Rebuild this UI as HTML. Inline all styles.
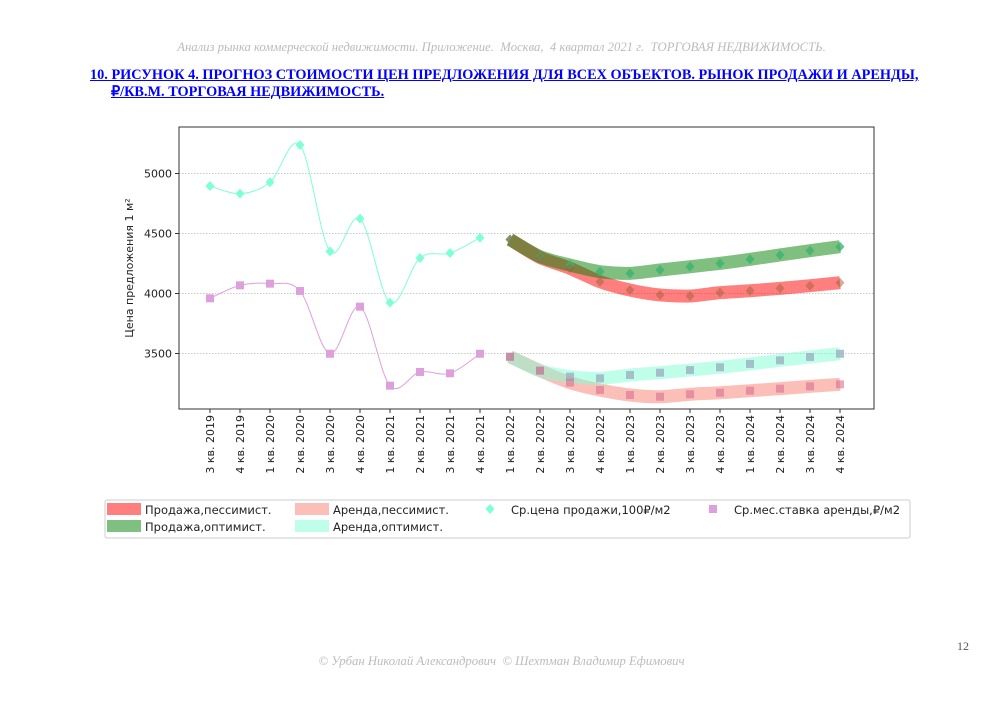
<!DOCTYPE html>
<html><head><meta charset="utf-8"><style>
body{margin:0;background:#fff;}
#page{position:relative;width:1003px;height:708px;overflow:hidden;background:#fff;font-family:"Liberation Serif",serif;}
.hdr{position:absolute;left:0;width:1003px;text-align:center;color:#bbb;font-style:italic;font-size:12.7px;}
.title{position:absolute;left:90px;top:67px;color:#00f;font-weight:bold;font-size:14.3px;text-decoration:underline;line-height:17px;}
svg text{font-family:"DejaVu Sans","Liberation Sans",sans-serif;}
</style></head><body>
<div id="page">
<div class="hdr" style="top:40px">Анализ рынка коммерческой недвижимости. Приложение.&nbsp; Москва,&nbsp; 4 квартал 2021 г.&nbsp; ТОРГОВАЯ НЕДВИЖИМОСТЬ.</div>
<div class="title">10. РИСУНОК 4. ПРОГНОЗ СТОИМОСТИ ЦЕН ПРЕДЛОЖЕНИЯ ДЛЯ ВСЕХ ОБЪЕКТОВ. РЫНОК ПРОДАЖИ И АРЕНДЫ,<br><span style="margin-left:21px">₽/КВ.М. ТОРГОВАЯ НЕДВИЖИМОСТЬ.</span></div>
<svg id="chart" width="1003" height="708" style="position:absolute;left:0;top:0"></svg>
<div style="position:absolute;left:957px;top:639px;font-size:12px;color:#555">12</div>
<div class="hdr" style="top:654px">© Урбан Николай Александрович&nbsp; © Шехтман Владимир Ефимович</div>
</div>
<script>
const categories=["3 кв. 2019","4 кв. 2019","1 кв. 2020","2 кв. 2020","3 кв. 2020","4 кв. 2020","1 кв. 2021","2 кв. 2021","3 кв. 2021","4 кв. 2021","1 кв. 2022","2 кв. 2022","3 кв. 2022","4 кв. 2022","1 кв. 2023","2 кв. 2023","3 кв. 2023","4 кв. 2023","1 кв. 2024","2 кв. 2024","3 кв. 2024","4 кв. 2024"];
const saleHist=[4896,4832,4927,5237,4351,4624,3924,4296,4337,4465];
const rentHist=[3960,4068,4082,4021,3498,3890,3232,3346,3335,3498];
const saleOpt=[4450,4307,4237,4182,4168,4196,4223,4251,4285,4321,4357,4390];
const salePess=[4450,4300,4210,4098,4029,3988,3979,4007,4023,4043,4065,4090];
const rentOpt=[3473,3357,3307,3293,3321,3340,3362,3385,3413,3443,3471,3498];
const rentPess=[3473,3357,3257,3196,3154,3140,3160,3173,3190,3207,3226,3243];
const yTicks=[3500,4000,4500,5000];
const forecastStart=10;
const NS="http://www.w3.org/2000/svg";
const svg=document.getElementById('chart');
const L=179,R=874,T=127,B=409;
const xs=i=>210+i*30;
const ys=v=>293.5-(v-4000)*0.12;
function mk(tag,at,parent){const e=document.createElementNS(NS,tag);for(const k in at)e.setAttribute(k,at[k]);(parent||svg).appendChild(e);return e;}
function smooth(pts,k){k=k||6;let d=`M${pts[0][0]},${pts[0][1]}`;for(let i=0;i<pts.length-1;i++){const p0=pts[i-1]||pts[i],p1=pts[i],p2=pts[i+1],p3=pts[i+2]||p2;const c1=[p1[0]+(p2[0]-p0[0])/k,p1[1]+(p2[1]-p0[1])/k],c2=[p2[0]-(p3[0]-p1[0])/k,p2[1]-(p3[1]-p1[1])/k];d+=` C${c1[0]},${c1[1]} ${c2[0]},${c2[1]} ${p2[0]},${p2[1]}`;}return d;}
yTicks.forEach(v=>{const g=mk('line',{x1:L,x2:R,y1:ys(v),y2:ys(v),stroke:'#bbb','stroke-dasharray':'1.5,1.5','stroke-width':0.8});
const t=mk('text',{x:L-7,y:ys(v)+4,'text-anchor':'end','font-size':11,fill:'#222'});t.textContent=v;
mk('line',{x1:L-4,x2:L,y1:ys(v),y2:ys(v),stroke:'#333'});});
const yt=mk('text',{x:0,y:0,transform:'translate(133,268) rotate(-90)','text-anchor':'middle','font-size':11,fill:'#222'});yt.textContent='Цена предложения 1 м²';
categories.forEach((c,i)=>{mk('line',{x1:xs(i),x2:xs(i),y1:B,y2:B+4,stroke:'#333'});const t=mk('text',{x:0,y:0,transform:`translate(${xs(i)+4},${B+6}) rotate(-90)`,'text-anchor':'end','font-size':11,fill:'#222'});t.textContent=c;});
function band(arr,color,op,name){const pts=arr.map((v,i)=>[xs(i+forecastStart),ys(v)]);const p=mk('path',{d:smooth(pts,8),fill:'none',stroke:color,'stroke-width':13,'stroke-opacity':op});}
band(salePess,'#f00',0.5,'band-sale-pessimistic');
band(saleOpt,'#008000',0.5,'band-sale-optimistic');
band(rentPess,'#fa8072',0.5,'band-rent-pessimistic');
band(rentOpt,'#7fffd4',0.5,'band-rent-optimistic');
function line(arr,color,name){const pts=arr.map((v,i)=>[xs(i),ys(v)]);const p=mk('path',{d:smooth(pts),fill:'none',stroke:color,'stroke-width':1});}
line(saleHist,'#7fffd4','line-sale-history');line(rentHist,'#dda0dd','line-rent-history');
function dia(x,y,c,op){const m=mk('path',{d:`M${x},${y-5}L${x+4.5},${y}L${x},${y+5}L${x-4.5},${y}Z`,fill:c,'fill-opacity':op});}
function sq(x,y,c,op){const m=mk('rect',{x:x-4,y:y-4,width:8,height:8,fill:c,'fill-opacity':op});}
saleHist.forEach((v,i)=>dia(xs(i),ys(v),'#7fffd4',1));
rentHist.forEach((v,i)=>sq(xs(i),ys(v),'#dda0dd',1));
saleOpt.forEach((v,i)=>dia(xs(i+forecastStart),ys(v),'#3cb371',0.8));
salePess.forEach((v,i)=>dia(xs(i+forecastStart),ys(v),'#a0603a',0.5));
rentOpt.forEach((v,i)=>sq(xs(i+forecastStart),ys(v),'#9ab0c0',0.8));
rentPess.forEach((v,i)=>sq(xs(i+forecastStart),ys(v),'#d87090',0.6));
const fr=mk('rect',{x:L,y:T,width:R-L,height:B-T,fill:'none',stroke:'#333','stroke-width':1});
const lg=mk('g',{});
mk('rect',{x:105,y:500,width:805,height:38,fill:'#fff',stroke:'#ccc',rx:2},lg);
const items=[[107,503,'#f00',0.5,'Продажа,пессимист.'],[107,520,'#008000',0.5,'Продажа,оптимист.'],[295,503,'#fa8072',0.5,'Аренда,пессимист.'],[295,520,'#7fffd4',0.5,'Аренда,оптимист.']];
items.forEach(it=>{mk('rect',{x:it[0],y:it[1],width:34,height:12,fill:it[2],'fill-opacity':it[3]},lg);const t=mk('text',{x:it[0]+38,y:it[1]+11,'font-size':11.5,fill:'#222'},lg);t.textContent=it[4];});
dia(490,509,'#7fffd4',1);sq(713,509,'#dda0dd',1);
const t1=mk('text',{x:511,y:514,'font-size':11.5,fill:'#222'},lg);t1.textContent='Ср.цена продажи,100₽/м2';
const t2=mk('text',{x:734,y:514,'font-size':11.5,fill:'#222'},lg);t2.textContent='Ср.мес.ставка аренды,₽/м2';
</script>
</body></html>
